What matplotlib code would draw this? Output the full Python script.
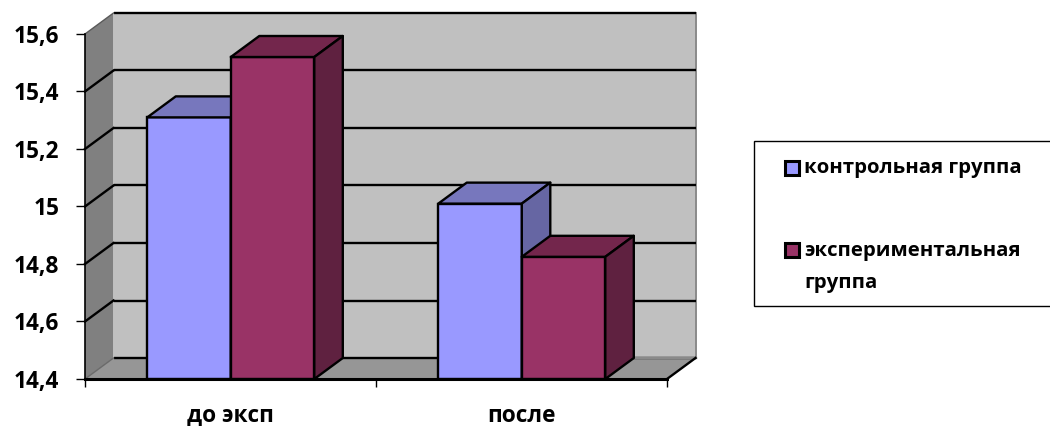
# -*- coding: utf-8 -*-
"""Pseudo-3D clustered bars: control vs experimental group, before and after."""
import matplotlib
matplotlib.use('Agg')
import matplotlib.pyplot as plt
from matplotlib.patches import Polygon, Rectangle

plt.rcParams['font.family'] = ['Open Sans', 'DejaVu Sans']

CATEGORIES = ['до эксп', 'после']
CONTROL = [15.31, 15.01]
EXPERIMENT = [15.52, 14.825]
Y_TICKS = [14.4, 14.6, 14.8, 15.0, 15.2, 15.4, 15.6]
Y_LABELS = ['14,4', '14,6', '14,8', '15', '15,2', '15,4', '15,6']
LEGEND_LABELS = ['контрольная группа', 'экспериментальная', 'группа']

W, H = 1050, 426
Y0, Y1 = Y_TICKS[0], Y_TICKS[-1]
BAR_W = 0.287
LW = 1.7
# depth of the box, in data units
DX = 28.5 / 291
DY = 21 / 345 * (Y1 - Y0)


def fx(x):
    return x / W


def fy(y):
    return 1 - y / H


def draw_bar(ax, x, val, front, top, side):
    ax.bar(x, val - Y0, BAR_W, bottom=Y0, color=front, edgecolor='black',
           linewidth=LW, align='edge', zorder=3, clip_on=False)
    r = x + BAR_W
    ax.add_patch(Polygon([(x, val), (r, val), (r + DX, val + DY), (x + DX, val + DY)],
                         fc=top, ec='black', lw=LW, zorder=3, clip_on=False, joinstyle='round'))
    ax.add_patch(Polygon([(r, Y0), (r + DX, Y0 + DY), (r + DX, val + DY), (r, val)],
                         fc=side, ec='black', lw=LW, zorder=3, clip_on=False, joinstyle='round'))


fig = plt.figure(figsize=(W / 100, H / 100), dpi=100, facecolor='white')
ax = fig.add_axes([fx(85), fy(379), 582 / W, 345 / H])
ax.set_xlim(0, 2)
ax.set_ylim(Y0, Y1)
for s in ax.spines.values():
    s.set_visible(False)
ax.patch.set_visible(False)

# walls and floor
ax.add_patch(Polygon([(DX, Y0 + DY), (2 + DX, Y0 + DY), (2 + DX, Y1 + DY), (DX, Y1 + DY)],
                     fc='#C0C0C0', ec='none', zorder=0, clip_on=False))
ax.add_patch(Polygon([(0, Y0), (DX, Y0 + DY), (DX, Y1 + DY), (0, Y1)],
                     fc='#808080', ec='none', zorder=0, clip_on=False))
ax.add_patch(Polygon([(0, Y0), (2, Y0), (2 + DX, Y0 + DY), (DX, Y0 + DY)],
                     fc='#969696', ec='none', zorder=0, clip_on=False))
ax.plot([2 + DX, 2 + DX], [Y0 + DY, Y1 + DY], color='#8A8A8A', lw=1.4, zorder=1, clip_on=False)

# gridlines across the back wall and down the side wall
for t in Y_TICKS:
    ax.plot([DX, 2 + DX], [t + DY, t + DY], color='black', lw=LW, zorder=1, clip_on=False,
            solid_capstyle='butt')
    if t not in (Y0, Y1):
        ax.plot([0, DX], [t, t + DY], color='black', lw=LW, zorder=1, clip_on=False)
# the outer edges of the side wall stay faint, as does the floor's rear right stretch
ax.plot([0, DX], [Y1, Y1 + DY], color='#5A5A5A', lw=1, zorder=1, clip_on=False)
ax.plot([0, DX], [Y0, Y0 + DY], color='#6A6A6A', lw=1, zorder=1, clip_on=False)
ax.plot([1.5, 2 + DX], [Y0 + DY, Y0 + DY], color='#8A8A8A', lw=LW, zorder=1, clip_on=False)

# axis lines and ticks
ax.plot([0, 0], [Y0, Y1], color='black', lw=1.2, zorder=2, clip_on=False)
ax.plot([0, 2], [Y0, Y0], color='black', lw=2.2, zorder=4, clip_on=False)
ax.plot([2, 2 + DX], [Y0, Y0 + DY], color='black', lw=LW, zorder=1, clip_on=False)

for i, cat in enumerate(CATEGORIES):
    c = i + 0.5
    draw_bar(ax, c - BAR_W + 0.001, CONTROL[i], '#9999FF', '#7777BD', '#6666A3')
    draw_bar(ax, c + 0.001, EXPERIMENT[i], '#993366', '#73264C', '#5F2140')

ax.set_xticks([0, 1, 2])
ax.set_xticklabels([])
ax.tick_params(axis='x', length=6, width=1, pad=0)
ax.get_xticklines()[4].set_color('#8A8A8A')
ax.set_yticks(Y_TICKS)
ax.set_yticklabels(Y_LABELS, fontsize=16.3, fontweight='bold')
ax.tick_params(axis='y', length=6.5, width=1, pad=12)
for i, cat in enumerate(CATEGORIES):
    ax.text(i + 0.5, Y0 - 37 / 345 * (Y1 - Y0), cat, ha='center', va='center', fontsize=16.3,
            fontweight='bold', color='black', clip_on=False)

# legend box runs off the right edge
fig.add_artist(Rectangle((fx(754), fy(306)), 300 / W, 165 / H, transform=fig.transFigure,
                         fc='white', ec='black', lw=1))
for y_top, col in [(160.5, '#9999FF'), (243, '#993366')]:
    fig.add_artist(Rectangle((fx(785), fy(y_top + 14)), 14 / W, 14 / H, transform=fig.transFigure,
                             fc=col, ec='black', lw=2.2))
for y, label in zip([168, 251, 283], LEGEND_LABELS):
    fig.text(fx(804.5), fy(y), label, fontsize=14.7, fontweight='bold', va='center', ha='left')

fig.savefig('out.png', dpi=100)
plt.close(fig)
